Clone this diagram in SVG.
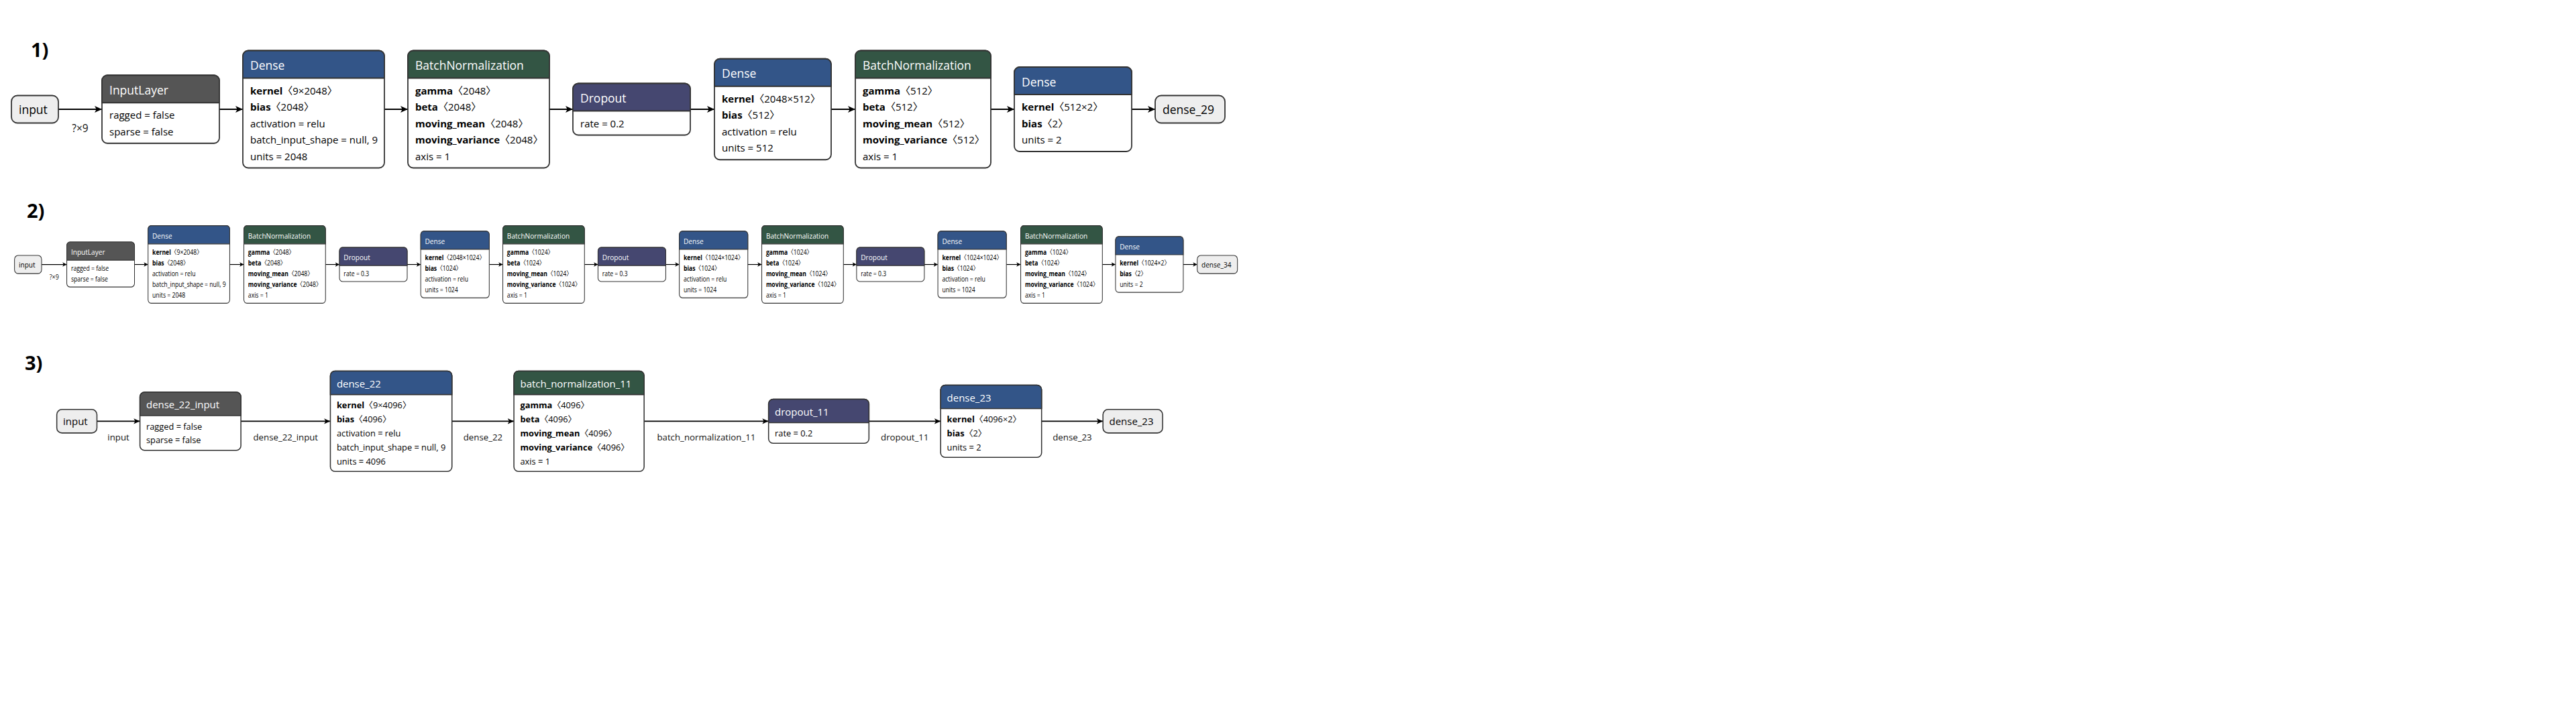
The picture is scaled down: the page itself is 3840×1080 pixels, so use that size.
<svg xmlns="http://www.w3.org/2000/svg" width="3840" height="1080" viewBox="0 0 3840 1080">
<style>
text{font-family:'Open Sans','Noto Sans CJK KR',sans-serif}
.num{font-size:29px;font-weight:bold;fill:#000}
.ti{font-size:17.5px;fill:#fff}
.b{font-size:15px;fill:#000}
.k{font-weight:bold}
.pt{font-size:17.5px;fill:#000}
.el{font-size:15.5px;fill:#111;text-anchor:middle}
.pill{fill:#eee;stroke:#333;stroke-width:1.8}
.box{fill:#fff;stroke:#333;stroke-width:1.8}
.hd{stroke:#333;stroke-width:1.8}
.dn{fill:#335588}
.bn{fill:#335544}
.dr{fill:#454770}
.in{fill:#555555}
.e{fill:none;stroke:#000;stroke-width:1.8;marker-end:url(#ah)}
</style>
<defs>
<marker id="ah" viewBox="0 0 10 10" refX="10" refY="5" markerWidth="11" markerHeight="11" markerUnits="userSpaceOnUse" orient="auto"><path d="M0,0.5 L10,5 L0,9.5 L2.5,5 Z" fill="#000"/></marker>
</defs>
<rect width="3840" height="1080" fill="#fff"/>
<text class="num" x="46" y="85">1)</text>
<text class="num" x="40" y="325">2)</text>
<text class="num" x="37" y="552">3)</text>

<!-- ROW 1 -->
<g id="row1">
<g id="r1-edges">
<path class="e" d="M87,163 H152"/><path class="e" d="M327,163 H362"/><path class="e" d="M573,163 H608"/><path class="e" d="M819,163 H854"/><path class="e" d="M1029,163 H1065"/><path class="e" d="M1239,163 H1275"/><path class="e" d="M1477,163 H1512"/><path class="e" d="M1687,163 H1722"/>
<text class="el" x="119.5" y="197">?×9</text>
</g>
<g id="r1-input"><rect class="pill" x="17" y="142.5" width="70" height="41" rx="9"/><text class="pt" x="28" y="169.5">input</text></g>
<g id="r1-inputlayer"><rect class="box" x="152" y="112.25" width="175" height="101.5" rx="8"/><path class="hd in" d="M152,153.25 V120.25 A8,8 0 0 1 160,112.25 H319 A8,8 0 0 1 327,120.25 V153.25 Z"/>
<text class="ti" x="163" y="140.75">InputLayer</text><text class="b" x="163" y="177.25">ragged = false</text><text class="b" x="163" y="201.75">sparse = false</text></g>
<g id="r1-dense1"><rect class="box" x="362" y="75.5" width="211" height="175" rx="8"/><path class="hd dn" d="M362,116.5 V83.5 A8,8 0 0 1 370,75.5 H565 A8,8 0 0 1 573,83.5 V116.5 Z"/>
<text class="ti" x="373" y="104">Dense</text>
<text class="b" x="373" y="140.5"><tspan class="k">kernel</tspan>〈9×2048〉</text><text class="b" x="373" y="165"><tspan class="k">bias</tspan>〈2048〉</text><text class="b" x="373" y="189.5">activation = relu</text><text class="b" x="373" y="214">batch_input_shape = null, 9</text><text class="b" x="373" y="238.5">units = 2048</text></g>
<g id="r1-bn1"><rect class="box" x="608" y="75.5" width="211" height="175" rx="8"/><path class="hd bn" d="M608,116.5 V83.5 A8,8 0 0 1 616,75.5 H811 A8,8 0 0 1 819,83.5 V116.5 Z"/>
<text class="ti" x="619" y="104">BatchNormalization</text>
<text class="b" x="619" y="140.5"><tspan class="k">gamma</tspan>〈2048〉</text><text class="b" x="619" y="165"><tspan class="k">beta</tspan>〈2048〉</text><text class="b" x="619" y="189.5"><tspan class="k">moving_mean</tspan>〈2048〉</text><text class="b" x="619" y="214"><tspan class="k">moving_variance</tspan>〈2048〉</text><text class="b" x="619" y="238.5">axis = 1</text></g>
<g id="r1-dropout"><rect class="box" x="854" y="124.5" width="175" height="77" rx="8"/><path class="hd dr" d="M854,165.5 V132.5 A8,8 0 0 1 862,124.5 H1021 A8,8 0 0 1 1029,132.5 V165.5 Z"/>
<text class="ti" x="865" y="153">Dropout</text><text class="b" x="865" y="189.5">rate = 0.2</text></g>
<g id="r1-dense2"><rect class="box" x="1065" y="87.75" width="174" height="150.5" rx="8"/><path class="hd dn" d="M1065,128.75 V95.75 A8,8 0 0 1 1073,87.75 H1231 A8,8 0 0 1 1239,95.75 V128.75 Z"/>
<text class="ti" x="1076" y="116.25">Dense</text>
<text class="b" x="1076" y="152.75"><tspan class="k">kernel</tspan>〈2048×512〉</text><text class="b" x="1076" y="177.25"><tspan class="k">bias</tspan>〈512〉</text><text class="b" x="1076" y="201.75">activation = relu</text><text class="b" x="1076" y="226.25">units = 512</text></g>
<g id="r1-bn2"><rect class="box" x="1275" y="75.5" width="202" height="175" rx="8"/><path class="hd bn" d="M1275,116.5 V83.5 A8,8 0 0 1 1283,75.5 H1469 A8,8 0 0 1 1477,83.5 V116.5 Z"/>
<text class="ti" x="1286" y="104">BatchNormalization</text>
<text class="b" x="1286" y="140.5"><tspan class="k">gamma</tspan>〈512〉</text><text class="b" x="1286" y="165"><tspan class="k">beta</tspan>〈512〉</text><text class="b" x="1286" y="189.5"><tspan class="k">moving_mean</tspan>〈512〉</text><text class="b" x="1286" y="214"><tspan class="k">moving_variance</tspan>〈512〉</text><text class="b" x="1286" y="238.5">axis = 1</text></g>
<g id="r1-dense3"><rect class="box" x="1512" y="100" width="175" height="126" rx="8"/><path class="hd dn" d="M1512,141 V108 A8,8 0 0 1 1520,100 H1679 A8,8 0 0 1 1687,108 V141 Z"/>
<text class="ti" x="1523" y="128.5">Dense</text>
<text class="b" x="1523" y="165"><tspan class="k">kernel</tspan>〈512×2〉</text><text class="b" x="1523" y="189.5"><tspan class="k">bias</tspan>〈2〉</text><text class="b" x="1523" y="214">units = 2</text></g>
<g id="r1-output"><rect class="pill" x="1722" y="142.5" width="104" height="41" rx="9"/><text class="pt" x="1733" y="169.5">dense_29</text></g>
</g>

<!-- ROW 2 -->
<g id="row2" transform="translate(0,286.8) scale(0.577,0.661)">
<g id="r2-edges">
<path class="e" d="M107.5,163 H172.5"/><path class="e" d="M347.5,163 H382.5"/><path class="e" d="M593.5,163 H630"/><path class="e" d="M841,163 H877"/><path class="e" d="M1052,163 H1087"/><path class="e" d="M1264,163 H1299"/><path class="e" d="M1510,163 H1545"/><path class="e" d="M1720,163 H1755"/><path class="e" d="M1932,163 H1968"/><path class="e" d="M2179,163 H2213"/><path class="e" d="M2388,163 H2423"/><path class="e" d="M2600,163 H2637"/><path class="e" d="M2848,163 H2882"/><path class="e" d="M3057,163 H3093"/>
<text class="el" x="140" y="197">?×9</text>
</g>
<g id="r2-input"><rect class="pill" x="37.5" y="142.5" width="70" height="41" rx="9"/><text class="pt" x="48.5" y="169.5">input</text></g>
<g id="r2-inputlayer"><rect class="box" x="172.5" y="112.25" width="175" height="101.5" rx="8"/><path class="hd in" d="M172.5,153.25 V120.25 A8,8 0 0 1 180.5,112.25 H339.5 A8,8 0 0 1 347.5,120.25 V153.25 Z"/>
<text class="ti" x="183.5" y="140.75">InputLayer</text><text class="b" x="183.5" y="177.25">ragged = false</text><text class="b" x="183.5" y="201.75">sparse = false</text></g>
<g id="r2-dense1"><rect class="box" x="382.5" y="75.5" width="211" height="175" rx="8"/><path class="hd dn" d="M382.5,116.5 V83.5 A8,8 0 0 1 390.5,75.5 H585.5 A8,8 0 0 1 593.5,83.5 V116.5 Z"/>
<text class="ti" x="393.5" y="104">Dense</text>
<text class="b" x="393.5" y="140.5"><tspan class="k">kernel</tspan>〈9×2048〉</text><text class="b" x="393.5" y="165"><tspan class="k">bias</tspan>〈2048〉</text><text class="b" x="393.5" y="189.5">activation = relu</text><text class="b" x="393.5" y="214">batch_input_shape = null, 9</text><text class="b" x="393.5" y="238.5">units = 2048</text></g>
<g id="r2-bn1"><rect class="box" x="630" y="75.5" width="211" height="175" rx="8"/><path class="hd bn" d="M630,116.5 V83.5 A8,8 0 0 1 638,75.5 H833 A8,8 0 0 1 841,83.5 V116.5 Z"/>
<text class="ti" x="641" y="104">BatchNormalization</text>
<text class="b" x="641" y="140.5"><tspan class="k">gamma</tspan>〈2048〉</text><text class="b" x="641" y="165"><tspan class="k">beta</tspan>〈2048〉</text><text class="b" x="641" y="189.5"><tspan class="k">moving_mean</tspan>〈2048〉</text><text class="b" x="641" y="214"><tspan class="k">moving_variance</tspan>〈2048〉</text><text class="b" x="641" y="238.5">axis = 1</text></g>
<g id="r2-dropout1"><rect class="box" x="877" y="124.5" width="175" height="77" rx="8"/><path class="hd dr" d="M877,165.5 V132.5 A8,8 0 0 1 885,124.5 H1044 A8,8 0 0 1 1052,132.5 V165.5 Z"/>
<text class="ti" x="888" y="153">Dropout</text><text class="b" x="888" y="189.5">rate = 0.3</text></g>
<g id="r2-dense2"><rect class="box" x="1087" y="87.75" width="177" height="150.5" rx="8"/><path class="hd dn" d="M1087,128.75 V95.75 A8,8 0 0 1 1095,87.75 H1256 A8,8 0 0 1 1264,95.75 V128.75 Z"/>
<text class="ti" x="1098" y="116.25">Dense</text>
<text class="b" x="1098" y="152.75"><tspan class="k">kernel</tspan>〈2048×1024〉</text><text class="b" x="1098" y="177.25"><tspan class="k">bias</tspan>〈1024〉</text><text class="b" x="1098" y="201.75">activation = relu</text><text class="b" x="1098" y="226.25">units = 1024</text></g>
<g id="r2-bn2"><rect class="box" x="1299" y="75.5" width="211" height="175" rx="8"/><path class="hd bn" d="M1299,116.5 V83.5 A8,8 0 0 1 1307,75.5 H1502 A8,8 0 0 1 1510,83.5 V116.5 Z"/>
<text class="ti" x="1310" y="104">BatchNormalization</text>
<text class="b" x="1310" y="140.5"><tspan class="k">gamma</tspan>〈1024〉</text><text class="b" x="1310" y="165"><tspan class="k">beta</tspan>〈1024〉</text><text class="b" x="1310" y="189.5"><tspan class="k">moving_mean</tspan>〈1024〉</text><text class="b" x="1310" y="214"><tspan class="k">moving_variance</tspan>〈1024〉</text><text class="b" x="1310" y="238.5">axis = 1</text></g>
<g id="r2-dropout2"><rect class="box" x="1545" y="124.5" width="175" height="77" rx="8"/><path class="hd dr" d="M1545,165.5 V132.5 A8,8 0 0 1 1553,124.5 H1712 A8,8 0 0 1 1720,132.5 V165.5 Z"/>
<text class="ti" x="1556" y="153">Dropout</text><text class="b" x="1556" y="189.5">rate = 0.3</text></g>
<g id="r2-dense3"><rect class="box" x="1755" y="87.75" width="177" height="150.5" rx="8"/><path class="hd dn" d="M1755,128.75 V95.75 A8,8 0 0 1 1763,87.75 H1924 A8,8 0 0 1 1932,95.75 V128.75 Z"/>
<text class="ti" x="1766" y="116.25">Dense</text>
<text class="b" x="1766" y="152.75"><tspan class="k">kernel</tspan>〈1024×1024〉</text><text class="b" x="1766" y="177.25"><tspan class="k">bias</tspan>〈1024〉</text><text class="b" x="1766" y="201.75">activation = relu</text><text class="b" x="1766" y="226.25">units = 1024</text></g>
<g id="r2-bn3"><rect class="box" x="1968" y="75.5" width="211" height="175" rx="8"/><path class="hd bn" d="M1968,116.5 V83.5 A8,8 0 0 1 1976,75.5 H2171 A8,8 0 0 1 2179,83.5 V116.5 Z"/>
<text class="ti" x="1979" y="104">BatchNormalization</text>
<text class="b" x="1979" y="140.5"><tspan class="k">gamma</tspan>〈1024〉</text><text class="b" x="1979" y="165"><tspan class="k">beta</tspan>〈1024〉</text><text class="b" x="1979" y="189.5"><tspan class="k">moving_mean</tspan>〈1024〉</text><text class="b" x="1979" y="214"><tspan class="k">moving_variance</tspan>〈1024〉</text><text class="b" x="1979" y="238.5">axis = 1</text></g>
<g id="r2-dropout3"><rect class="box" x="2213" y="124.5" width="175" height="77" rx="8"/><path class="hd dr" d="M2213,165.5 V132.5 A8,8 0 0 1 2221,124.5 H2380 A8,8 0 0 1 2388,132.5 V165.5 Z"/>
<text class="ti" x="2224" y="153">Dropout</text><text class="b" x="2224" y="189.5">rate = 0.3</text></g>
<g id="r2-dense4"><rect class="box" x="2423" y="87.75" width="177" height="150.5" rx="8"/><path class="hd dn" d="M2423,128.75 V95.75 A8,8 0 0 1 2431,87.75 H2592 A8,8 0 0 1 2600,95.75 V128.75 Z"/>
<text class="ti" x="2434" y="116.25">Dense</text>
<text class="b" x="2434" y="152.75"><tspan class="k">kernel</tspan>〈1024×1024〉</text><text class="b" x="2434" y="177.25"><tspan class="k">bias</tspan>〈1024〉</text><text class="b" x="2434" y="201.75">activation = relu</text><text class="b" x="2434" y="226.25">units = 1024</text></g>
<g id="r2-bn4"><rect class="box" x="2637" y="75.5" width="211" height="175" rx="8"/><path class="hd bn" d="M2637,116.5 V83.5 A8,8 0 0 1 2645,75.5 H2840 A8,8 0 0 1 2848,83.5 V116.5 Z"/>
<text class="ti" x="2648" y="104">BatchNormalization</text>
<text class="b" x="2648" y="140.5"><tspan class="k">gamma</tspan>〈1024〉</text><text class="b" x="2648" y="165"><tspan class="k">beta</tspan>〈1024〉</text><text class="b" x="2648" y="189.5"><tspan class="k">moving_mean</tspan>〈1024〉</text><text class="b" x="2648" y="214"><tspan class="k">moving_variance</tspan>〈1024〉</text><text class="b" x="2648" y="238.5">axis = 1</text></g>
<g id="r2-dense5"><rect class="box" x="2882" y="100" width="175" height="126" rx="8"/><path class="hd dn" d="M2882,141 V108 A8,8 0 0 1 2890,100 H3049 A8,8 0 0 1 3057,108 V141 Z"/>
<text class="ti" x="2893" y="128.5">Dense</text>
<text class="b" x="2893" y="165"><tspan class="k">kernel</tspan>〈1024×2〉</text><text class="b" x="2893" y="189.5"><tspan class="k">bias</tspan>〈2〉</text><text class="b" x="2893" y="214">units = 2</text></g>
<g id="r2-output"><rect class="pill" x="3093" y="142.5" width="104" height="41" rx="9"/><text class="pt" x="3104" y="169.5">dense_34</text></g>
</g>

<!-- ROW 3 -->
<g id="row3" transform="translate(0,489) scale(0.855)">
<g id="r3-edges">
<path class="e" d="M169,163 H244"/><path class="e" d="M420,163 H576"/><path class="e" d="M788,163 H896"/><path class="e" d="M1123,163 H1340"/><path class="e" d="M1515,163 H1640"/><path class="e" d="M1816,163 H1923"/>
<text class="el" x="206.5" y="197">input</text>
<text class="el" x="498" y="197">dense_22_input</text>
<text class="el" x="842" y="197">dense_22</text>
<text class="el" x="1231.5" y="197">batch_normalization_11</text>
<text class="el" x="1577.5" y="197">dropout_11</text>
<text class="el" x="1869.5" y="197">dense_23</text>
</g>
<g id="r3-input"><rect class="pill" x="99" y="142.5" width="70" height="41" rx="9"/><text class="pt" x="110" y="169.5">input</text></g>
<g id="r3-dense_22_input"><rect class="box" x="244" y="112.25" width="176" height="101.5" rx="8"/><path class="hd in" d="M244,153.25 V120.25 A8,8 0 0 1 252,112.25 H412 A8,8 0 0 1 420,120.25 V153.25 Z"/>
<text class="ti" x="255" y="140.75">dense_22_input</text><text class="b" x="255" y="177.25">ragged = false</text><text class="b" x="255" y="201.75">sparse = false</text></g>
<g id="r3-dense_22"><rect class="box" x="576" y="75.5" width="212" height="175" rx="8"/><path class="hd dn" d="M576,116.5 V83.5 A8,8 0 0 1 584,75.5 H780 A8,8 0 0 1 788,83.5 V116.5 Z"/>
<text class="ti" x="587" y="104">dense_22</text>
<text class="b" x="587" y="140.5"><tspan class="k">kernel</tspan>〈9×4096〉</text><text class="b" x="587" y="165"><tspan class="k">bias</tspan>〈4096〉</text><text class="b" x="587" y="189.5">activation = relu</text><text class="b" x="587" y="214">batch_input_shape = null, 9</text><text class="b" x="587" y="238.5">units = 4096</text></g>
<g id="r3-batch_normalization_11"><rect class="box" x="896" y="75.5" width="227" height="175" rx="8"/><path class="hd bn" d="M896,116.5 V83.5 A8,8 0 0 1 904,75.5 H1115 A8,8 0 0 1 1123,83.5 V116.5 Z"/>
<text class="ti" x="907" y="104">batch_normalization_11</text>
<text class="b" x="907" y="140.5"><tspan class="k">gamma</tspan>〈4096〉</text><text class="b" x="907" y="165"><tspan class="k">beta</tspan>〈4096〉</text><text class="b" x="907" y="189.5"><tspan class="k">moving_mean</tspan>〈4096〉</text><text class="b" x="907" y="214"><tspan class="k">moving_variance</tspan>〈4096〉</text><text class="b" x="907" y="238.5">axis = 1</text></g>
<g id="r3-dropout_11"><rect class="box" x="1340" y="124.5" width="175" height="77" rx="8"/><path class="hd dr" d="M1340,165.5 V132.5 A8,8 0 0 1 1348,124.5 H1507 A8,8 0 0 1 1515,132.5 V165.5 Z"/>
<text class="ti" x="1351" y="153">dropout_11</text><text class="b" x="1351" y="189.5">rate = 0.2</text></g>
<g id="r3-dense_23"><rect class="box" x="1640" y="100" width="176" height="126" rx="8"/><path class="hd dn" d="M1640,141 V108 A8,8 0 0 1 1648,100 H1808 A8,8 0 0 1 1816,108 V141 Z"/>
<text class="ti" x="1651" y="128.5">dense_23</text>
<text class="b" x="1651" y="165"><tspan class="k">kernel</tspan>〈4096×2〉</text><text class="b" x="1651" y="189.5"><tspan class="k">bias</tspan>〈2〉</text><text class="b" x="1651" y="214">units = 2</text></g>
<g id="r3-output"><rect class="pill" x="1923" y="142.5" width="104" height="41" rx="9"/><text class="pt" x="1934" y="169.5">dense_23</text></g>
</g>
</svg>
